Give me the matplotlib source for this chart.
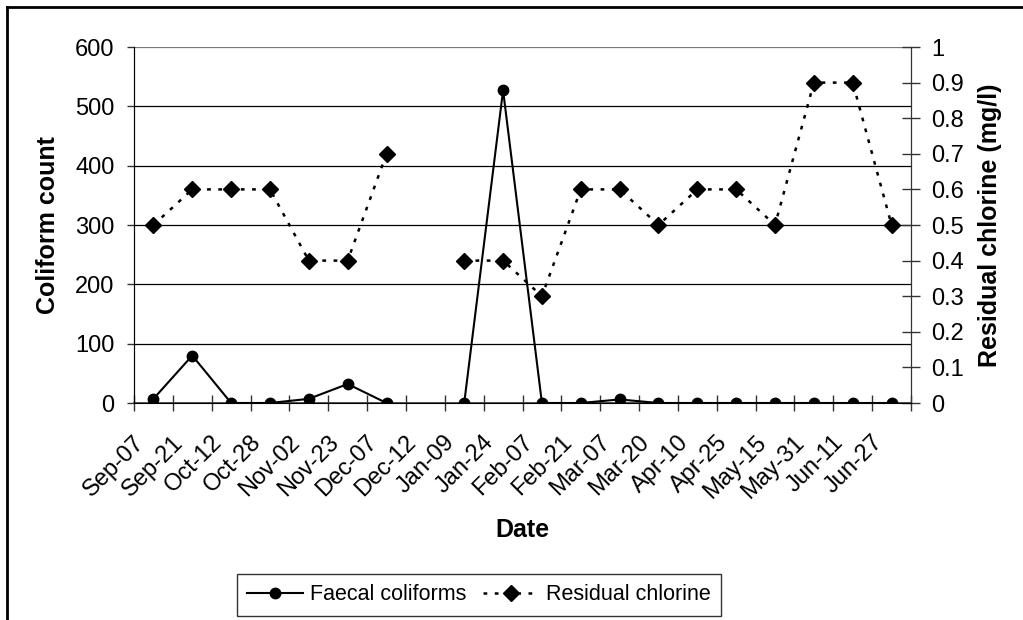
import numpy as np
import matplotlib
matplotlib.use("Agg")
from matplotlib import pyplot as plt
from matplotlib.lines import Line2D

plt.rcParams['font.family'] = ['Liberation Sans', 'DejaVu Sans']

# data
dates = ["Sep-07", "Sep-21", "Oct-12", "Oct-28", "Nov-02", "Nov-23", "Dec-07",
         "Dec-12", "Jan-09", "Jan-24", "Feb-07", "Feb-21", "Mar-07", "Mar-20",
         "Apr-10", "Apr-25", "May-15", "May-31", "Jun-11", "Jun-27"]
faecal = [7, 80, 0, 0, 7, 32, 0, np.nan, 0, 527, 0, 0, 6, 0, 0, 0, 0, 0, 0, 0]
chlorine = [0.5, 0.6, 0.6, 0.6, 0.4, 0.4, 0.7, np.nan, 0.4, 0.4, 0.3, 0.6,
            0.6, 0.5, 0.6, 0.6, 0.5, 0.9, 0.9, 0.5]
left_ticks = [0, 100, 200, 300, 400, 500, 600]
right_ticks = [0, 0.1, 0.2, 0.3, 0.4, 0.5, 0.6, 0.7, 0.8, 0.9, 1]
right_labels = ["0", "0.1", "0.2", "0.3", "0.4", "0.5", "0.6", "0.7", "0.8", "0.9", "1"]

W, H = 1023, 620
FS = 17     # tick labels
LGS = 15.5  # legend text
LFS = 18    # bold axis titles
fig = plt.figure(figsize=(W / 100, H / 100), dpi=100)
ax = fig.add_axes([134 / W, 1 - 403 / H, 777 / W, 356 / H])
ax2 = ax.twinx()

x = np.arange(len(dates))

# left axis: coliform count
ax.set_ylim(0, 600)
ax.set_yticks(left_ticks)
ax.set_yticklabels([str(t) for t in left_ticks], fontsize=FS)
ax.tick_params(axis='y', direction='out', length=5, width=1, color='#333333', pad=9)
for t in left_ticks[1:]:
    ax.axhline(t, color='black' if t < 600 else '#777777', lw=0.9, zorder=0)

ax.set_xlim(-0.5, len(dates) - 0.5)
ax.set_xticks(np.arange(-0.5, len(dates), 1))
ax.set_xticklabels([])
ax.tick_params(axis='x', which='major', direction='inout', length=11, width=1, color='#333333')
ax.set_xticks(x - 0.32, minor=True)
ax.set_xticklabels(dates, minor=True, rotation=45, ha='right', va='center',
                   rotation_mode='anchor', fontsize=FS)
ax.tick_params(axis='x', which='minor', length=0, pad=26)

for s in ['top']:
    ax.spines[s].set_visible(False)
    ax2.spines[s].set_visible(False)
ax.spines['left'].set_color('#333333')
ax.spines['bottom'].set_color('#333333')
ax.spines['bottom'].set_linewidth(1.2)
ax2.spines['right'].set_color('#333333')

ax.plot(x, faecal, color='black', lw=1.5, marker='o', markersize=7.5, zorder=3)

# right axis: residual chlorine
ax2.set_ylim(0, 1)
ax2.set_yticks(right_ticks)
ax2.set_yticklabels(right_labels, fontsize=FS)
ax2.tick_params(axis='y', direction='inout', length=13, width=1, color='#333333', pad=8)
ax2.plot(x, chlorine, color='black', lw=1.8, linestyle=(0, (1.5, 3)),
         marker='D', markersize=8, zorder=3)

ax.set_ylabel("Coliform count", fontsize=LFS, fontweight='bold')
ax.yaxis.set_label_coords(-0.095, 0.5)
ax2.set_ylabel("Residual chlorine (mg/l)", fontsize=LFS, fontweight='bold')
ax2.yaxis.set_label_coords(1.086, 0.5)
ax.set_xlabel("Date", fontsize=LFS, fontweight='bold')
ax.xaxis.set_label_coords(0.5, -0.322)

handles = [
    Line2D([], [], color='black', lw=1.5, marker='o', markersize=7.5),
    Line2D([], [], color='black', lw=1.8, linestyle=(0, (1.5, 3)), marker='D', markersize=8),
]
leg = fig.legend(handles, ["Faecal coliforms", "Residual chlorine"], loc='center',
                 bbox_to_anchor=(479 / W, 1 - 595 / H), ncol=2, fontsize=LGS,
                 frameon=True, fancybox=False, handlelength=2.6, handletextpad=0.3,
                 columnspacing=0.8, borderpad=0.5, edgecolor='black')
leg.get_frame().set_linewidth(1)

# outer chart border (only top and left are visible in the crop)
fig.add_artist(Line2D([7 / W, 7 / W], [0, 1 - 7 / H], color='black', lw=2))
fig.add_artist(Line2D([7 / W, 1], [1 - 7 / H, 1 - 7 / H], color='black', lw=2))

fig.savefig("out.png", dpi=100)
